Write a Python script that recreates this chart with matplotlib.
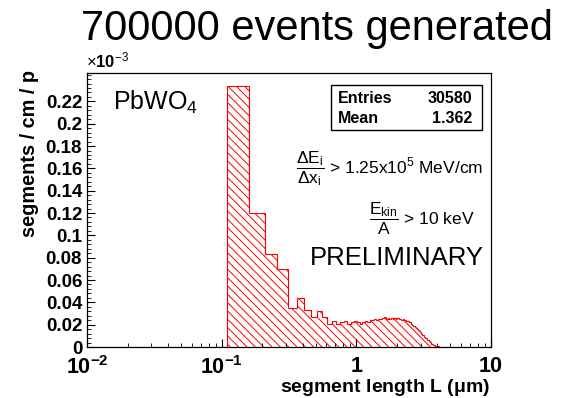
import numpy as np
import matplotlib
matplotlib.use("Agg")
import matplotlib.pyplot as plt
from matplotlib.ticker import FixedLocator, MultipleLocator, FormatStrFormatter, NullFormatter

plt.rcParams['font.family'] = ['Liberation Sans', 'DejaVu Sans']
plt.rcParams['mathtext.fontset'] = 'custom'
plt.rcParams['mathtext.rm'] = 'Liberation Sans'
plt.rcParams['mathtext.it'] = 'Liberation Sans:italic'
plt.rcParams['mathtext.bf'] = 'Liberation Sans:bold'
plt.rcParams['hatch.color'] = 'red'
plt.rcParams['hatch.linewidth'] = 0.7

# Histogram binning: 200 equal-width bins between 0.01 and 10 um
n_bins = 200
l_min, l_max = 0.01, 10.0
first_bin = 2  # index of the first populated bin

# segments / cm / primary, in units of 1e-3, for consecutive bins from first_bin
seg_density = [
    0.234, 0.120, 0.0835, 0.070, 0.035, 0.044, 0.033, 0.027, 0.032, 0.027,
    0.021, 0.023, 0.021, 0.022, 0.023, 0.021, 0.022, 0.023, 0.022, 0.021,
    0.022, 0.023, 0.022, 0.024, 0.024, 0.025, 0.024, 0.025, 0.025, 0.026,
    0.027, 0.025, 0.026, 0.025, 0.026, 0.025, 0.026, 0.025, 0.026, 0.025,
    0.025, 0.024, 0.025, 0.024, 0.024, 0.023, 0.023, 0.022, 0.022, 0.021,
    0.020, 0.019, 0.018, 0.017, 0.016, 0.015, 0.014, 0.013, 0.012, 0.011,
    0.011, 0.010, 0.009, 0.0085, 0.008, 0.0065, 0.006, 0.005, 0.0045, 0.0035,
    0.003, 0.0025, 0.002, 0.0015, 0.0012, 0.001, 0.0008, 0.0006, 0.0005, 0.0005,
    0.0004, 0.0004, 0.0004, 0.0003, 0.0003, 0.0003, 0.0002, 0.0002, 0.0002, 0.0002,
    0.0001, 0.0001, 0.0001, 0.0001, 0.0001,
]

n_entries = 30580
mean_length = 1.362
x_tick_values = [0.01, 0.1, 1, 10]
x_tick_labels = [r'$\mathbf{10^{-2}}$', r'$\mathbf{10^{-1}}$', '1', '10']
y_tick_values = [0.0, 0.02, 0.04, 0.06, 0.08, 0.10, 0.12, 0.14, 0.16, 0.18, 0.20, 0.22]

bin_edges = np.linspace(l_min, l_max, n_bins + 1)
counts = np.zeros(n_bins)
counts[first_bin:first_bin + len(seg_density)] = seg_density

W, H = 574, 398
fig = plt.figure(figsize=(W / 100, H / 100), dpi=100)
ax = fig.add_axes([87 / W, 1 - 347 / H, (491 - 87) / W, (347 - 72.7) / H])

ax.stairs(counts, bin_edges, fill=True, facecolor='none', edgecolor='red',
          hatch='\\\\\\\\', linewidth=0.8)

ax.set_xscale('log')
ax.set_xlim(l_min, l_max)
ax.set_ylim(0, 1.05 * max(counts))

ax.xaxis.set_major_locator(FixedLocator(x_tick_values))
ax.set_xticklabels(x_tick_labels)
ax.xaxis.set_minor_locator(FixedLocator(
    [m * 10.0 ** e for e in (-2, -1, 0) for m in range(2, 10)]))
ax.xaxis.set_minor_formatter(NullFormatter())
ax.yaxis.set_major_locator(FixedLocator(y_tick_values))
ax.yaxis.set_minor_locator(MultipleLocator(0.004))
ax.yaxis.set_major_formatter(FormatStrFormatter('%g'))

ax.tick_params(which='both', direction='in', top=False, right=False)
ax.tick_params(axis='y', which='major', length=5.8, width=0.8, labelsize=13.5, pad=3.5)
ax.tick_params(axis='y', which='minor', length=3.0, width=0.6)
ax.tick_params(axis='x', which='major', length=5.8, width=0.8, labelsize=15.5, pad=6.5)
ax.tick_params(axis='x', which='minor', length=3.2, width=0.6)
for lab in ax.get_xticklabels():
    lab.set_fontweight('bold')
for lab in ax.get_yticklabels():
    lab.set_fontweight('bold')
    lab.set_verticalalignment('center_baseline')
for sp in ax.spines.values():
    sp.set_linewidth(0.9)

# axis titles
fig.text(490 / W, 1 - 387.5 / H, r'segment length L ($\mathbf{\mu}$m)', ha='right', va='center',
         fontsize=14, fontweight='bold')
fig.text(30 / W, 1 - 70 / H, 'segments / cm / p', rotation=90, ha='center', va='top',
         fontsize=14.3, fontweight='bold')
fig.text(86 / W, 1 - 70 / H, r'$\times$10$^{-3}$', ha='left', va='bottom',
         fontsize=12, fontweight='bold')

# title
fig.text(317 / W, 1 - 40 / H, '700000 events generated', ha='center', va='baseline',
         fontsize=30)

# material label
ax.text(113 / W, 1 - 110 / H, r'PbWO$_4$', transform=fig.transFigure, ha='left',
        va='baseline', fontsize=18)

# statistics box
box = plt.Rectangle((331 / W, 1 - 130 / H), (482 - 331) / W, (130 - 85) / H,
                    transform=fig.transFigure, facecolor='white', edgecolor='black',
                    linewidth=1.0, zorder=5)
fig.patches.append(box)
fig.text(338 / W, 1 - 103 / H, 'Entries', ha='left', va='baseline', fontsize=11.5,
         fontweight='bold', zorder=6)
fig.text(472 / W, 1 - 103 / H, f'{n_entries}', ha='right', va='baseline', fontsize=11.5,
         fontweight='bold', zorder=6)
fig.text(338 / W, 1 - 123 / H, 'Mean', ha='left', va='baseline', fontsize=11.5,
         fontweight='bold', zorder=6)
fig.text(472 / W, 1 - 123 / H, f'{mean_length:.3f}', ha='right', va='baseline',
         fontsize=11.5, fontweight='bold', zorder=6)

# selection cuts
fig.text(483 / W, 1 - 169 / H,
         r'$\dfrac{\Delta\mathrm{E}_{\mathrm{i}}}{\Delta\mathrm{x}_{\mathrm{i}}}$ > 1.25x10$^{5}$ MeV/cm',
         ha='right', va='center', fontsize=12.5)
fig.text(475 / W, 1 - 219 / H,
         r'$\dfrac{\mathrm{E}_{\mathrm{kin}}}{\mathrm{A}}$ > 10 keV',
         ha='right', va='center', fontsize=12.5)
fig.text(484 / W, 1 - 265 / H, 'PRELIMINARY', ha='right', va='baseline', fontsize=18.5)

fig.savefig('out.png', dpi=100)
